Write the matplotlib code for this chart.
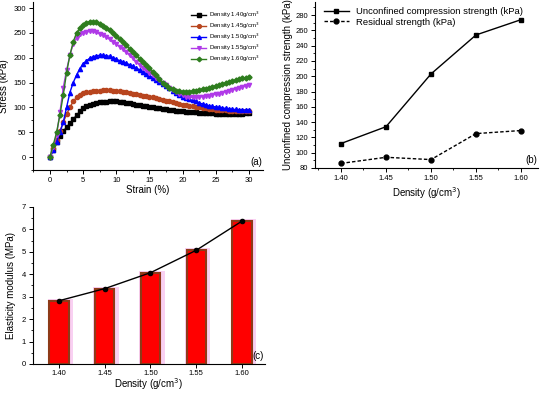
import numpy as np
import matplotlib
matplotlib.use("Agg")
import matplotlib.pyplot as plt
from matplotlib.ticker import AutoMinorLocator

plt.rcParams['font.family'] = ['Liberation Sans', 'DejaVu Sans']

# ---- panel (a): stress-strain curves, strain step 0.5 %
strain = np.arange(0, 30.01, 0.5)
s140 = [0, 15, 30, 42, 52, 60, 68, 76, 84, 92, 98, 102, 105, 107, 109, 110, 111, 111, 112, 112,
        112, 111, 110, 109, 108, 106, 105, 104, 103, 102, 101, 100, 99, 98, 97, 96, 95, 94, 93, 93,
        92, 91, 91, 90, 90, 89, 89, 88, 88, 88, 87, 87, 87, 87, 87, 87, 87, 87, 87, 88, 88]
s145 = [0, 18, 35, 52, 70, 86, 100, 112, 120, 126, 129, 131, 132, 133, 134, 134, 135, 135, 135, 134,
        134, 133, 132, 131, 130, 128, 127, 125, 124, 123, 122, 120, 118, 117, 115, 113, 112, 110, 108, 107,
        105, 104, 103, 102, 101, 100, 99, 98, 97, 96, 95, 95, 94, 94, 93, 93, 93, 92, 92, 92, 92]
s150 = [0, 15, 30, 50, 70, 100, 130, 150, 165, 178, 188, 194, 199, 202, 204, 205, 205, 204, 203, 200,
        197, 194, 192, 189, 186, 183, 179, 176, 172, 168, 164, 160, 156, 152, 148, 143, 139, 134, 130, 126,
        122, 119, 116, 114, 112, 109, 107, 105, 103, 102, 101, 100, 99, 98, 97, 96, 96, 95, 95, 95, 95]
s155 = [0, 20, 45, 90, 140, 175, 205, 228, 240, 247, 250, 252, 253, 253, 251, 248, 245, 241, 237, 232,
        228, 222, 217, 211, 205, 199, 192, 186, 180, 175, 170, 165, 160, 155, 150, 145, 140, 136, 132, 128,
        125, 122, 120, 120, 120, 121, 122, 123, 124, 125, 127, 128, 130, 132, 133, 135, 137, 139, 141, 143, 145]
s160 = [0, 25, 50, 85, 125, 170, 205, 232, 250, 259, 265, 270, 273, 273, 271, 267, 263, 259, 255, 249,
        243, 238, 232, 225, 218, 212, 205, 198, 192, 186, 180, 172, 165, 157, 150, 145, 140, 137, 134, 133,
        132, 132, 132, 133, 134, 135, 137, 138, 140, 142, 143, 145, 147, 149, 151, 153, 155, 157, 159, 160, 162]
curve_labels = ['Density 1.40g/cm$^3$', 'Density 1.45g/cm$^3$', 'Density 1.50g/cm$^3$',
                'Density 1.55g/cm$^3$', 'Density 1.60g/cm$^3$']

# ---- panel (b)
density = [1.40, 1.45, 1.50, 1.55, 1.60]
ucs = [112, 134, 203, 254, 274]
residual = [86, 94, 91, 125, 129]

# ---- panel (c)
density_labels = ['1.40', '1.45', '1.50', '1.55', '1.60']
modulus = [2.82, 3.36, 4.07, 5.07, 6.37]
modulus_err = [0.04, 0.05, 0.05, 0.05, 0.05]

fig = plt.figure(figsize=(5.5, 3.95), dpi=100)
tick_fs = 5.5
lab_fs = 7


def style(ax, minor_x=True):
    ax.spines['top'].set_visible(False)
    ax.spines['right'].set_visible(False)
    ax.tick_params(which='major', direction='out', length=3, width=0.7, labelsize=tick_fs, pad=2)
    ax.tick_params(which='minor', direction='out', length=1.6, width=0.6)
    ax.yaxis.set_minor_locator(AutoMinorLocator(2))
    if minor_x:
        ax.xaxis.set_minor_locator(AutoMinorLocator(2))
    for s in ('left', 'bottom'):
        ax.spines[s].set_linewidth(0.8)


# (a)
ax1 = fig.add_axes([0.06, 0.5696, 0.418, 0.425])
colors = ['#000000', '#B8451E', '#0000FF', '#B03AE8', '#2E7D1E']
markers = ['s', 'o', '^', 'v', 'D']
for ys, c, m, lab in zip([s140, s145, s150, s155, s160], colors, markers, curve_labels):
    ax1.plot(strain, ys, color=c, marker=m, ms=3.0 if m != 'D' else 2.6, lw=1.0, label=lab)
ax1.set_xlim(-2.56, 32.1)
ax1.set_ylim(-26, 312)
ax1.set_xticks([0, 5, 10, 15, 20, 25, 30])
ax1.set_yticks([0, 50, 100, 150, 200, 250, 300])
ax1.set_xlabel('Strain (%)', fontsize=lab_fs, labelpad=1)
ax1.set_ylabel('Stress (kPa)', fontsize=lab_fs, labelpad=3)
style(ax1)
ax1.legend(loc='upper right', fontsize=4.3, frameon=False, handlelength=2.4,
           labelspacing=0.12, handletextpad=0.5, borderaxespad=0.2,
           markerscale=0.9, bbox_to_anchor=(1.0, 0.975))
ax1.text(0.995, 0.02, '(a)', transform=ax1.transAxes, ha='right', va='bottom', fontsize=7)

# (b)
ax2 = fig.add_axes([0.5727, 0.5747, 0.4055, 0.42])
ax2.plot(density, ucs, color='black', marker='s', ms=3.5, lw=1.0,
         label='Unconfined compression strength (kPa)')
ax2.plot(density, residual, color='black', marker='o', ms=3.5, lw=1.0, ls=(0, (2.5, 1.5)),
         label='Residual strength (kPa)')
ax2.set_xlim(1.3711, 1.6189)
ax2.set_ylim(80, 297)
ax2.set_xticks(density)
ax2.set_xticklabels(density_labels)
ax2.set_yticks(range(80, 281, 20))
ax2.set_xlabel('Density (g/cm$^3$)', fontsize=lab_fs, labelpad=2)
ax2.set_ylabel('Unconfined compression strength (kPa)', fontsize=lab_fs, labelpad=2)
style(ax2)
ax2.legend(loc='upper left', fontsize=6.8, frameon=False, handlelength=2.6,
           labelspacing=0.2, borderaxespad=0.1, bbox_to_anchor=(0.02, 1.0))
ax2.text(0.995, 0.02, '(b)', transform=ax2.transAxes, ha='right', va='bottom', fontsize=7)

# (c)
ax3 = fig.add_axes([0.06, 0.0785, 0.4218, 0.3975])
x = np.arange(len(density_labels))
ax3.bar(x + 0.03, np.array(modulus) + 0.08, width=0.56, color='#F9D0F2', zorder=1)
ax3.bar(x, modulus, width=0.42, color='#FF0000', edgecolor='#8E3A18', linewidth=1.5, zorder=2)
ax3.errorbar(x, modulus, yerr=modulus_err, color='black', marker='o', ms=3, lw=1.0,
             capsize=1.5, elinewidth=0.8, zorder=3)
ax3.set_xlim(-0.568, 4.503)
ax3.set_ylim(0, 7)
ax3.set_xticks(x)
ax3.set_xticklabels(density_labels)
ax3.set_yticks(range(0, 8))
ax3.set_xlabel('Density (g/cm$^3$)', fontsize=lab_fs, labelpad=0)
ax3.set_ylabel('Elasticity modulus (MPa)', fontsize=lab_fs, labelpad=4)
style(ax3, minor_x=False)
ax3.tick_params(axis='x', pad=1)
ax3.text(0.995, 0.02, '(c)', transform=ax3.transAxes, ha='right', va='bottom', fontsize=7)

fig.savefig('out.png', dpi=100)
